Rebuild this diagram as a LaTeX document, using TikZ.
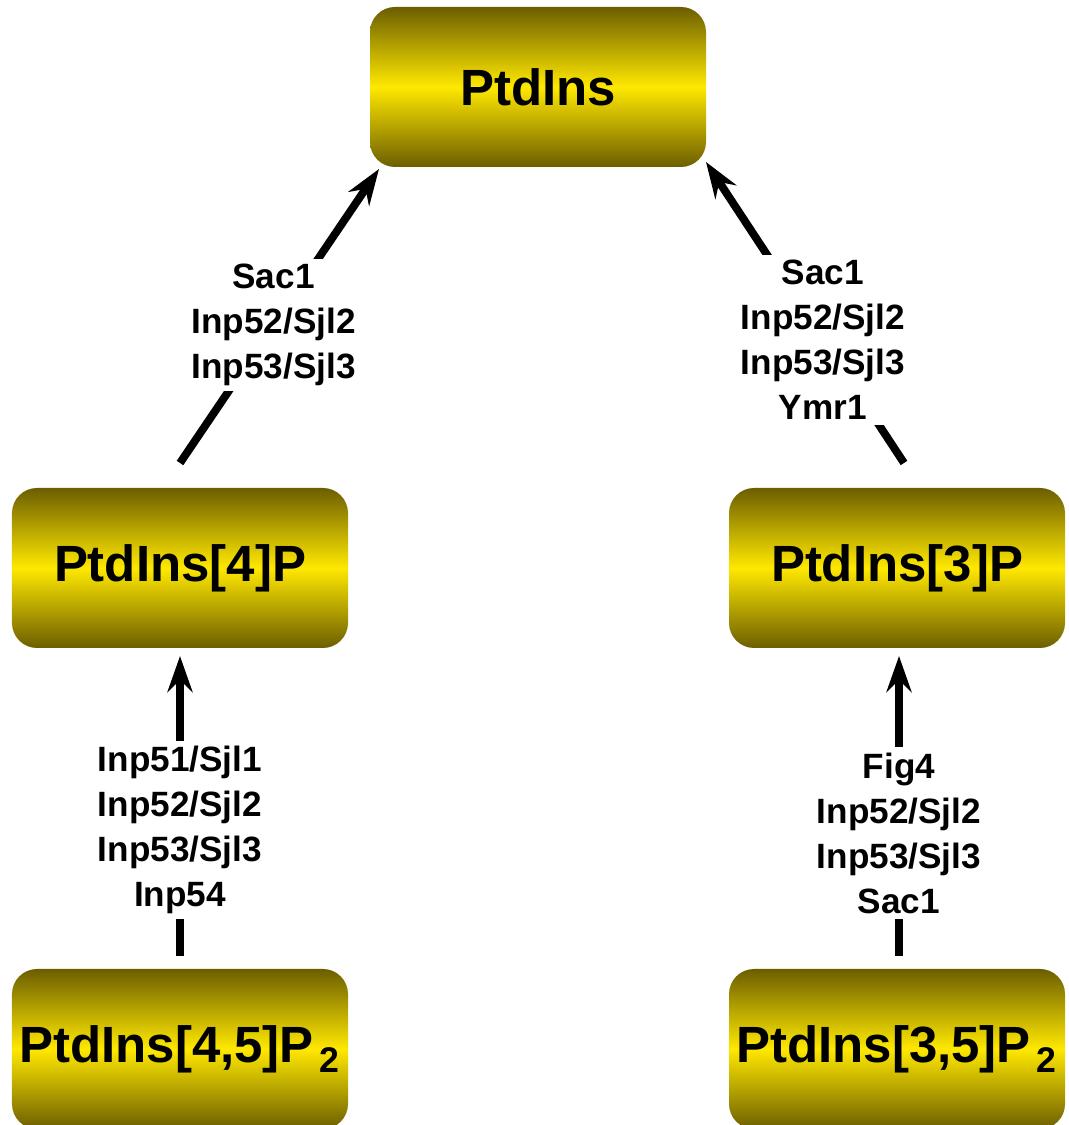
\documentclass[tikz,border=0pt]{standalone}
\usepackage{fontspec}
\setmainfont{Liberation Sans}
\usetikzlibrary{positioning, arrows.meta, calc}

\definecolor{oliva}{RGB}{108,94,0}
\definecolor{amarelo}{RGB}{255,232,0}

\begin{document}
\begin{tikzpicture}[
		        lipid/.style={rectangle, rounded corners=0.5cm, minimum width=6.72cm, minimum height=3.2cm, outer sep=0pt, top color=oliva, bottom color=oliva, middle color=amarelo, align=center, font=\fontsize{29}{34}\selectfont\bfseries},
		        enzimas/.style={fill=white, align=center, inner sep=3pt, font=\fontsize{20}{25.6}\selectfont\bfseries},
		        node distance=6.42cm, line width=4.5pt, >={Stealth[length=0.72cm, width=0.5cm, inset=0.24cm]}]
		        
		        \useasboundingbox (0,0) rectangle (21.36,22.5);
		        
		        % Nós do diagrama
		        \node (PI) [lipid] at (10.76,20.76) {PtdIns};
		        \node (PI4P) [lipid, below left=6.42cm and 0.44cm of PI] {PtdIns[4]P};
		        \node (PI3P) [lipid, below right=6.42cm and 0.46cm of PI] {PtdIns[3]P};
		        \node (PI45P2) [lipid, below=of PI4P] {PtdIns[4,5]P\textsubscript{\,2}};
		        \node (PI35P2) [lipid, below=of PI3P] {PtdIns[3,5]P\textsubscript{\,2}};
		        
		        % Conexões
		        \draw[->] ($(PI4P.north)+(0,0.5)$) -- node[enzimas, pos=0.47] {Sac1\\Inp52/Sjl2\\Inp53/Sjl3} ($(PI.south west)+(0.18,-0.04)$);
		        \draw[->] ($(PI3P.north)+(0.14,0.5)$) -- node[enzimas, pos=0.41] {Sac1\\Inp52/Sjl2\\Inp53/Sjl3\\Ymr1} ($(PI.south east)+(0,0.1)$);
		        \draw[->] ($(PI45P2.north)+(0,0.26)$) -- node[enzimas, pos=0.42] {Inp51/Sjl1\\Inp52/Sjl2\\Inp53/Sjl3\\Inp54} ($(PI4P.south)+(0,-0.16)$);
		        \draw[->] ($(PI35P2.north)+(0.04,0.26)$) -- node[enzimas, pos=0.41] {Fig4\\Inp52/Sjl2\\Inp53/Sjl3\\Sac1} ($(PI3P.south)+(0.04,-0.16)$);
		    \end{tikzpicture}
\end{document}
